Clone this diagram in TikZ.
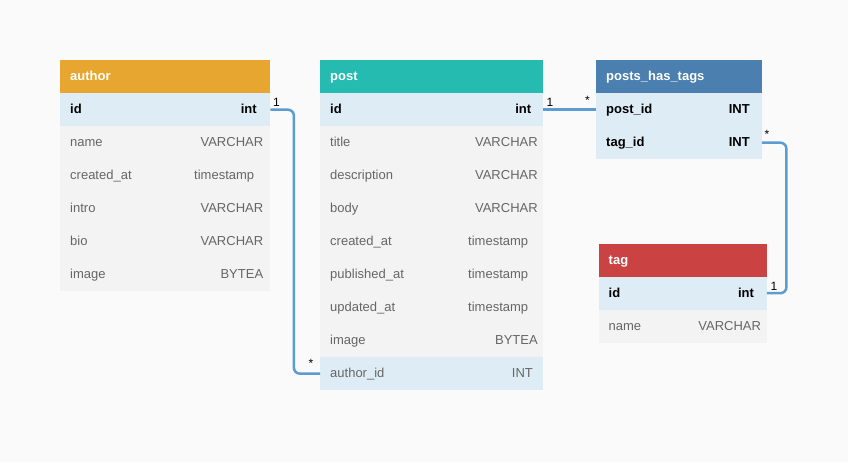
\documentclass[tikz,border=0pt]{standalone}
\usepackage{fontspec}
\setmainfont{Liberation Sans}
\definecolor{bgc}{HTML}{FAFAFA}
\definecolor{keyrowc}{HTML}{DEEDF5}
\definecolor{plainrowc}{HTML}{F3F3F3}
\definecolor{authorc}{HTML}{E6A630}
\definecolor{postc}{HTML}{25BBB1}
\definecolor{phtc}{HTML}{4A7FAF}
\definecolor{tagc}{HTML}{CB4242}
\definecolor{linkc}{HTML}{5E9BD0}
\definecolor{txtc}{HTML}{666666}
\tikzset{
  cell/.style={rectangle, inner sep=0pt, minimum height=33pt, anchor=north west},
  txtbase/.style={inner sep=0pt, text height=9.5pt, text depth=1pt, font=\fontsize{13}{15}\selectfont},
  keytxt/.style={txtbase, text=black, font=\fontsize{13}{15}\selectfont\bfseries},
  plaintxt/.style={txtbase, text=txtc},
  headtxt/.style={txtbase, text=white, font=\fontsize{13}{15}\selectfont\bfseries},
  link/.style={draw=linkc, line width=2.5pt, rounded corners=6pt},
  card/.style={inner sep=0pt, font=\fontsize{12}{14}\selectfont, text=black},
}
% #1 name, #2 left x, #3 width, #4 top y, #5 fill, #6 text style, #7 field, #8 type, #9 right pad
\newcommand\ERrow[9]{%
  \node[cell, fill=#5, minimum width=#3pt] (#1) at (#2,#4) {};
  \node[#6, anchor=west] (#1-f) at ([xshift=10pt]#1.west) {#7};
  \node[#6, anchor=east] (#1-t) at ([xshift=-#9pt]#1.east) {#8};
}
% #1 name, #2 left x, #3 width, #4 top y, #5 fill, #6 title
\newcommand\ERhead[6]{%
  \node[cell, fill=#5, minimum width=#3pt] (#1) at (#2,#4) {};
  \node[headtxt, anchor=west] (#1-f) at ([xshift=10pt]#1.west) {#6};
}
\begin{document}
\begin{tikzpicture}[x=1pt, y=-1pt]
\fill[bgc] (0,0) rectangle (848,462);
\useasboundingbox (0,0) rectangle (848,462);

% author
\ERhead{ah}{60}{210}{60}{authorc}{author}
\ERrow{aid}{60}{210}{93}{keyrowc}{keytxt}{id}{int}{13.5}
\ERrow{aname}{60}{210}{126}{plainrowc}{plaintxt}{name}{VARCHAR}{7}
\ERrow{acre}{60}{210}{159}{plainrowc}{plaintxt}{created\_at}{timestamp}{16}
\ERrow{aint}{60}{210}{192}{plainrowc}{plaintxt}{intro}{VARCHAR}{7}
\ERrow{abio}{60}{210}{225}{plainrowc}{plaintxt}{bio}{VARCHAR}{7}
\ERrow{aimg}{60}{210}{258}{plainrowc}{plaintxt}{image}{BYTEA}{7}

% post
\ERhead{ph}{320}{223}{60}{postc}{post}
\ERrow{pid}{320}{223}{93}{keyrowc}{keytxt}{id}{int}{12}
\ERrow{ptit}{320}{223}{126}{plainrowc}{plaintxt}{title}{VARCHAR}{5.5}
\ERrow{pdes}{320}{223}{159}{plainrowc}{plaintxt}{description}{VARCHAR}{5.5}
\ERrow{pbod}{320}{223}{192}{plainrowc}{plaintxt}{body}{VARCHAR}{5.5}
\ERrow{pcre}{320}{223}{225}{plainrowc}{plaintxt}{created\_at}{timestamp}{15}
\ERrow{ppub}{320}{223}{258}{plainrowc}{plaintxt}{published\_at}{timestamp}{15}
\ERrow{pupd}{320}{223}{291}{plainrowc}{plaintxt}{updated\_at}{timestamp}{15}
\ERrow{pimg}{320}{223}{324}{plainrowc}{plaintxt}{image}{BYTEA}{5.5}
\ERrow{paut}{320}{223}{357}{keyrowc}{plaintxt}{author\_id}{INT}{10.3}

% posts_has_tags
\ERhead{hh}{596}{165.5}{60}{phtc}{posts\_has\_tags}
\ERrow{hpost}{596}{165.5}{93}{keyrowc}{keytxt}{post\_id}{INT}{12}
\ERrow{htag}{596}{165.5}{126}{keyrowc}{keytxt}{tag\_id}{INT}{12}

% tag
\ERhead{th}{598.5}{168}{244}{tagc}{tag}
\ERrow{tid}{598.5}{168}{276.5}{keyrowc}{keytxt}{id}{int}{12.7}
\ERrow{tname}{598.5}{168}{309.5}{plainrowc}{plaintxt}{name}{VARCHAR}{5.7}

% connectors
\draw[link] (aid.east) -- ++(23.5,0) |- (paut.west);
\draw[link] (pid.east) -- (hpost.west);
\draw[link] (htag.east) -- ++(24.5,0) |- (tid.east);

% cardinalities
\node[card] (c1) at (276.5,102) {1};
\node[card] (c2) at (311,363.5) {*};
\node[card] (c3) at (550,102) {1};
\node[card] (c4) at (587.5,100.5) {*};
\node[card] (c5) at (767,134) {*};
\node[card] (c6) at (774,286) {1};
\end{tikzpicture}
\end{document}
